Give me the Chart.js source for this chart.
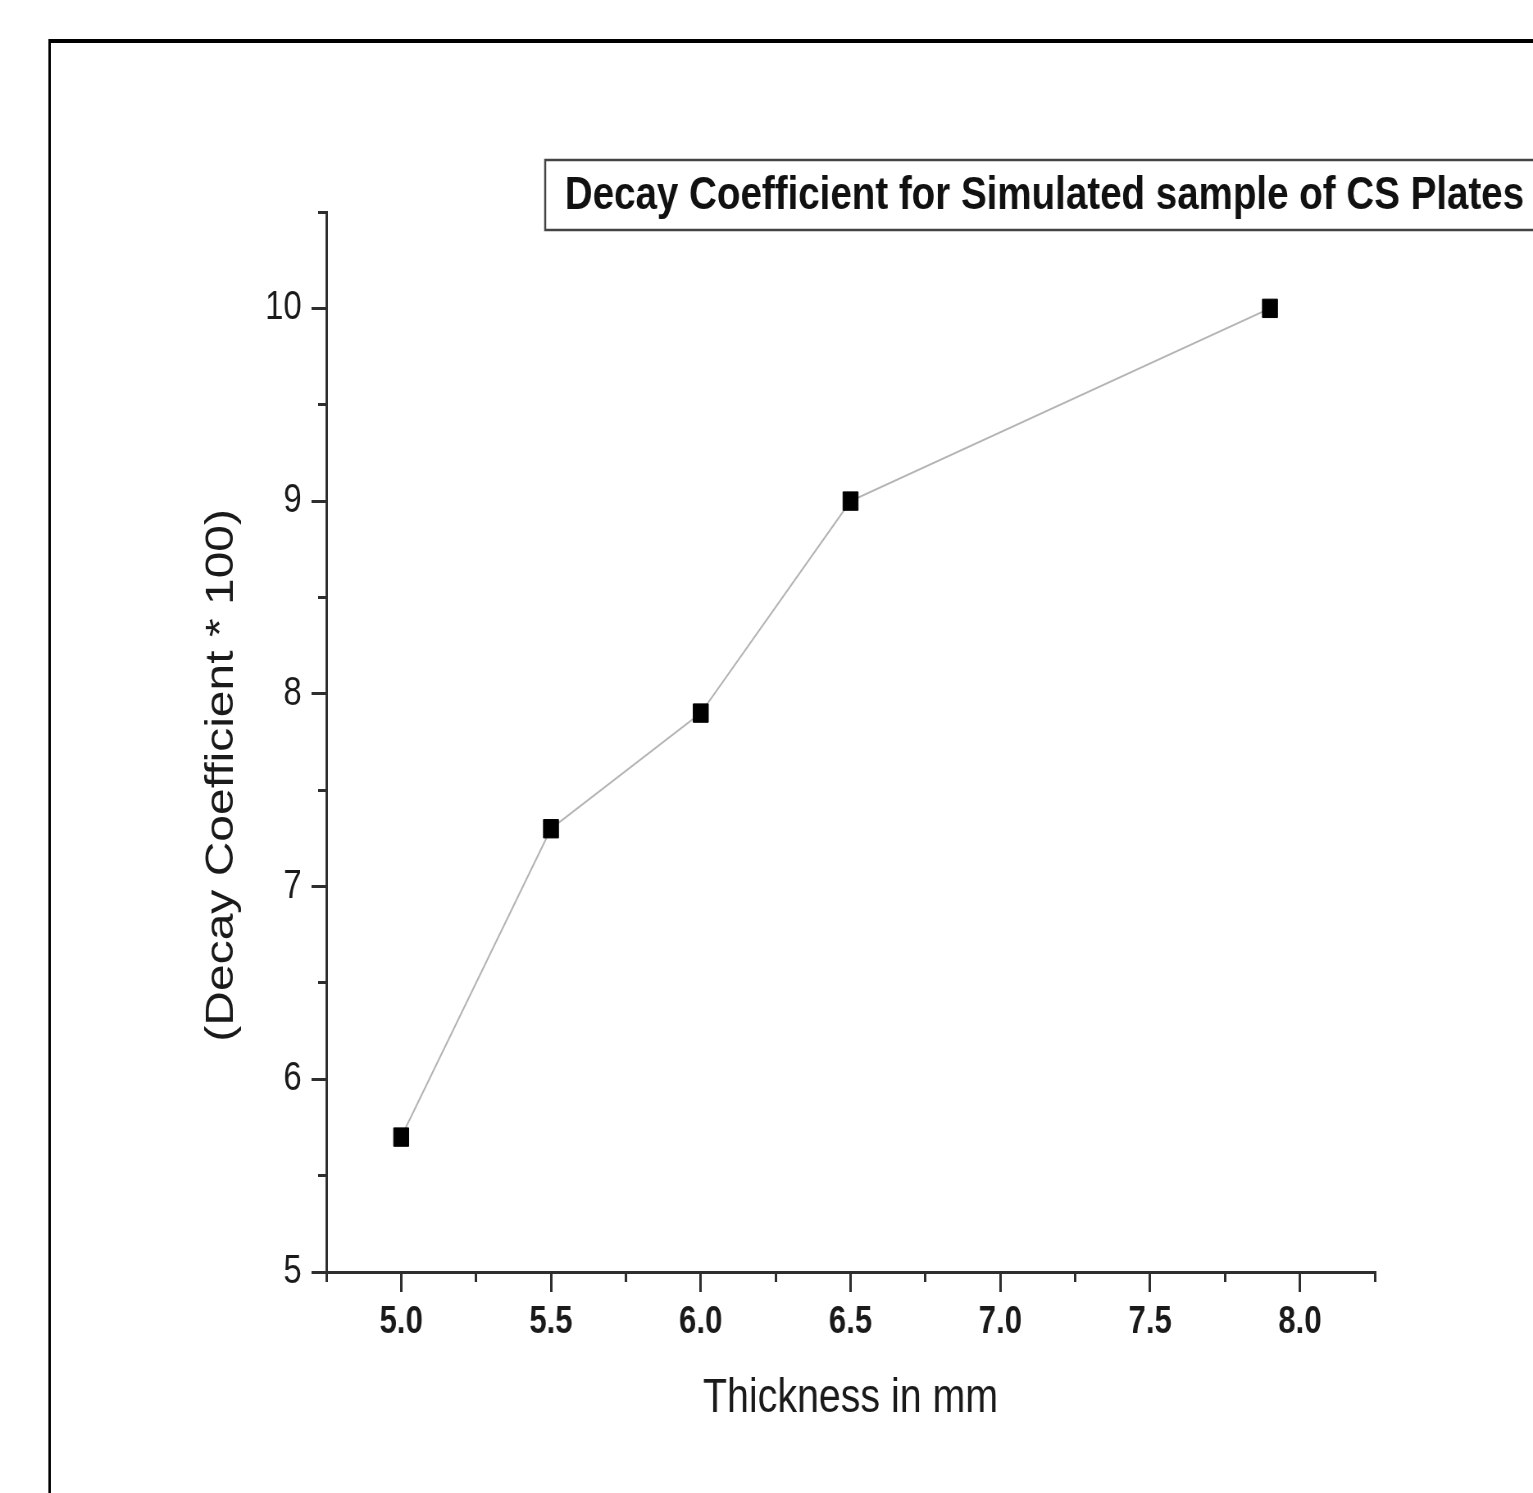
<!DOCTYPE html>
<html>
<head>
<meta charset="utf-8">
<title>Decay Coefficient vs Thickness</title>
<script src="https://cdn.jsdelivr.net/npm/chart.js@4.4.1/dist/chart.umd.min.js"></script>
<style>
  html, body { margin: 0; padding: 0; background: #fff; overflow: hidden; }
  /* the source picture is squeezed horizontally, so draw wide and squeeze */
  #wrap { width: 1870px; height: 1493px; transform: scaleX(0.8198); transform-origin: 0 0; }
</style>
</head>
<body>
<div id="wrap"><canvas id="decayChart" width="1870" height="1493"></canvas></div>
<script>
const thickness = [5.0, 5.5, 6.0, 6.5, 7.9];
const decayCoeff = [5.7, 7.3, 7.9, 9.0, 10.0];

const xMajorTicks = [5.0, 5.5, 6.0, 6.5, 7.0, 7.5, 8.0];
const xMinorTicks = [4.75, 5.25, 5.75, 6.25, 6.75, 7.25, 7.75, 8.25];
const yMajorTicks = [5, 6, 7, 8, 9, 10];
const yMinorTicks = [5.5, 6.5, 7.5, 8.5, 9.5, 10.5];

const seriesLabel = 'Decay Coefficient for Simulated sample of CS Plates';
const xTitle = 'Thickness in mm';
const yTitle = '(Decay Coefficient * 100)';

const family = "'Liberation Sans', Arial, sans-serif";
const axisColor = '#2e2e2e';
const textColor = '#1a1a1a';

// outer frame of the figure
const framePlugin = {
    id: 'frame',
    beforeDraw(chart) {
        const ctx = chart.ctx;
        ctx.save();
        ctx.fillStyle = '#fff';
        ctx.fillRect(0, 0, chart.width, chart.height);
        ctx.fillStyle = '#000';
        ctx.fillRect(59, 39, 2000, 4);
        ctx.fillRect(59, 39, 3, 2000);
        ctx.restore();
    }
};

// boxed legend text at the top right
const legendBoxPlugin = {
    id: 'legendBox',
    afterDraw(chart) {
        const ctx = chart.ctx;
        ctx.save();
        ctx.strokeStyle = '#444';
        ctx.lineWidth = 2.5;
        ctx.strokeRect(665, 160, 1300, 70);
        ctx.fillStyle = '#111';
        ctx.font = 'bold 47px ' + family;
        ctx.textBaseline = 'middle';
        ctx.fillText(chart.data.datasets[0].label, 689, 196);
        ctx.restore();
    }
};

function tickGrid(len) {
    return { drawOnChartArea: false, drawTicks: true, tickLength: len, color: axisColor, lineWidth: 3 };
}

const ctx = document.getElementById('decayChart').getContext('2d');

new Chart(ctx, {
    type: 'line',
    data: {
        datasets: [{
            label: seriesLabel,
            data: thickness.map((t, i) => ({ x: t, y: decayCoeff[i] })),
            borderColor: '#b4b4b4',
            borderWidth: 2,
            tension: 0,
            pointStyle: 'rect',
            pointRadius: 13,
            pointBackgroundColor: '#000',
            pointBorderColor: '#000',
            pointBorderWidth: 1,
            xAxisID: 'x',
            yAxisID: 'y'
        }]
    },
    options: {
        responsive: false,
        animation: false,
        devicePixelRatio: 1,
        layout: { padding: { left: 198, right: 193, top: 212, bottom: 41 } },
        plugins: {
            legend: { display: false },
            tooltip: { enabled: false }
        },
        scales: {
            x: {
                type: 'linear',
                position: 'bottom',
                weight: 1,
                min: 4.75,
                max: 8.25,
                afterBuildTicks: s => { s.ticks = xMajorTicks.map(v => ({ value: v })); },
                afterFit: s => { s.height = 180; },
                grid: tickGrid(20),
                border: { display: true, color: axisColor, width: 3 },
                ticks: {
                    autoSkip: false,
                    maxRotation: 0,
                    padding: 8,
                    color: textColor,
                    font: { size: 38, weight: 'bold', family: family },
                    callback: v => v.toFixed(1)
                },
                title: {
                    display: true,
                    text: xTitle,
                    color: textColor,
                    font: { size: 48, family: family },
                    padding: { top: 0, bottom: 24 }
                }
            },
            xMinor: {
                type: 'linear',
                position: 'bottom',
                weight: 0,
                display: true,
                min: 4.75,
                max: 8.25,
                afterBuildTicks: s => { s.ticks = xMinorTicks.map(v => ({ value: v })); },
                afterFit: s => { s.height = 0; },
                grid: tickGrid(10),
                border: { display: false },
                ticks: { display: false }
            },
            y: {
                type: 'linear',
                position: 'left',
                weight: 1,
                min: 5,
                max: 10.5,
                afterBuildTicks: s => { s.ticks = yMajorTicks.map(v => ({ value: v })); },
                afterFit: s => { s.width = 200; },
                grid: tickGrid(18),
                border: { display: true, color: axisColor, width: 3 },
                ticks: {
                    autoSkip: false,
                    padding: 12,
                    color: textColor,
                    font: { size: 40, family: family },
                    callback: v => String(v)
                },
                title: {
                    display: true,
                    text: yTitle + '     ',
                    color: textColor,
                    font: { size: 48, family: family },
                    padding: { top: 44, bottom: 0 }
                }
            },
            yMinor: {
                type: 'linear',
                position: 'left',
                weight: 0,
                display: true,
                min: 5,
                max: 10.5,
                afterBuildTicks: s => { s.ticks = yMinorTicks.map(v => ({ value: v })); },
                afterFit: s => { s.width = 0; },
                grid: tickGrid(10),
                border: { display: false },
                ticks: { display: false }
            }
        }
    },
    plugins: [framePlugin, legendBoxPlugin]
});
</script>
</body>
</html>
